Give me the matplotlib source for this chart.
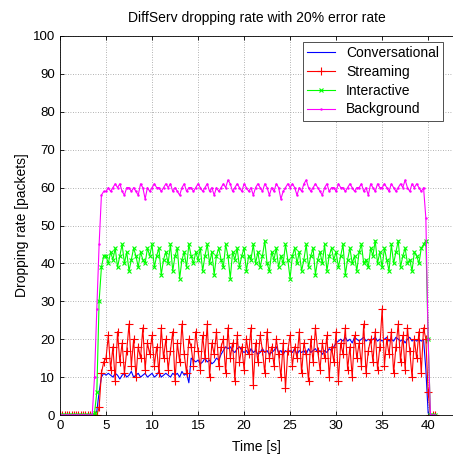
import numpy as np
import matplotlib
matplotlib.use("Agg")
import matplotlib.pyplot as plt

plt.rcParams['font.family'] = ['Liberation Sans', 'DejaVu Sans']

# time axis, one sample every 0.25 s
t = np.arange(0, 41.0, 0.25)

conversational = [
    0, 0, 0, 0, 0, 0, 0, 0, 0, 0, 0, 0, 0, 0, 0, 0, 1, 6, 10, 11,
    10.5, 11, 10.5, 10, 11, 10.5, 9.5, 10.5, 11, 10, 10.5, 11.5, 10, 10.5, 11, 10, 10.5, 11, 10, 10.5,
    11, 10, 10.5, 11.5, 10, 10.5, 11, 10.5, 10, 11, 10.5, 11, 10, 11.5, 10.5, 11, 8.5, 15, 14.5, 14,
    14.5, 13.5, 14, 15, 14, 14.5, 13.5, 14, 15, 14.5, 16, 17, 18, 17.5, 18, 17, 16.5, 17.5, 18, 17,
    16.5, 17, 16, 17.5, 16.5, 17, 16, 16.5, 17.5, 16.5, 17, 16, 16.5, 17, 18, 16.5, 17, 16, 17, 16.5,
    17, 16.5, 17.5, 16, 17, 16.5, 17, 16, 17.5, 16.5, 17, 17.5, 16.5, 17, 16, 17, 16.5, 17.5, 17, 18,
    19, 19.5, 20, 19.5, 20.5, 19.5, 20, 19, 20.5, 20, 19.5, 20, 20.5, 19.5, 20, 19.5, 20, 20.5, 19.5, 20,
    19.5, 20, 20.5, 19.5, 20, 19.5, 20.5, 20, 19.5, 20, 19, 20, 20.5, 19.5, 20, 19.5, 20, 19.5, 20,
    12, 0.5, 0, 0, 0]

streaming = [
    0, 0, 0, 0, 0, 0, 0, 0, 0, 0, 0, 0, 0, 0, 0, 0, 0, 2, 11, 14,
    15, 21, 12, 18, 9, 22, 14, 19, 11, 17, 24, 13, 20, 10, 18, 15, 23, 12, 19, 16,
    21, 13, 18, 11, 23, 15, 20, 12, 17, 22, 9, 19, 14, 24, 16, 11, 20, 18, 13, 22,
    17, 12, 21, 15, 24, 10, 19, 16, 22, 13, 18, 20, 11, 23, 15, 19, 9, 21, 14, 18,
    12, 20, 16, 23, 8, 19, 14, 21, 17, 11, 22, 15, 18, 13, 20, 16, 10, 19, 7, 17,
    21, 13, 18, 15, 22, 11, 19, 16, 9, 20, 14, 23, 17, 12, 19, 15, 21, 10, 18, 14,
    22, 9, 19, 16, 23, 12, 18, 10, 21, 15, 19, 13, 24, 11, 17, 20, 14, 22, 12, 18,
    28, 13, 20, 16, 22, 11, 18, 24, 14, 21, 12, 23, 17, 10, 20, 15, 22, 11, 23,
    20, 6, 0, 0, 0]

interactive = [
    0, 0, 0, 0, 0, 0, 0, 0, 0, 0, 0, 0, 0, 0, 0, 0.5, 6, 30, 39, 42,
    42, 40, 43, 41, 44, 39, 42, 45, 40, 43, 38, 41, 44, 42, 39, 43, 41, 40, 44, 42,
    45, 39, 42, 44, 37, 41, 43, 40, 45, 38, 42, 44, 36, 41, 43, 39, 45, 42, 40, 43,
    41, 44, 38, 42, 45, 40, 43, 37, 42, 44, 41, 39, 45, 42, 36, 43, 41, 44, 39, 42,
    44, 38, 42, 41, 45, 40, 43, 39, 42, 46, 40, 38, 43, 41, 44, 39, 42, 40, 45, 41,
    36, 42, 44, 40, 43, 38, 41, 45, 39, 42, 44, 37, 41, 43, 40, 45, 38, 42, 44, 41,
    43, 39, 42, 45, 37, 41, 44, 40, 42, 38, 43, 45, 40, 41, 39, 44, 42, 46, 40, 43,
    39, 44, 41, 38, 45, 40, 43, 46, 39, 42, 44, 40, 41, 38, 43, 42, 40, 44, 45,
    46, 20, 0, 0, 0]

background = [
    0, 0, 0, 0, 0, 0, 0, 0, 0, 0, 0, 0, 0, 0, 0, 10, 28, 45, 58, 59,
    59, 60, 59, 60, 61, 60, 61, 59, 58, 60, 60, 59, 60, 59, 58, 61, 60, 57, 60, 59,
    60, 61, 60, 60, 59, 60, 61, 60, 61, 59, 60, 59, 58, 60, 61, 59, 60, 60, 59, 60,
    61, 60, 59, 60, 61, 59, 60, 58, 60, 59, 60, 61, 60, 62, 61, 59, 60, 61, 60, 59,
    61, 60, 59, 60, 58, 60, 61, 60, 59, 61, 60, 58, 60, 59, 61, 60, 57, 59, 60, 61,
    60, 61, 60, 58, 60, 59, 61, 62, 60, 59, 60, 61, 60, 59, 58, 60, 61, 59, 60, 60,
    59, 61, 60, 60, 59, 60, 61, 60, 59, 60, 60, 61, 59, 60, 58, 61, 60, 59, 61, 60,
    60, 61, 60, 59, 61, 60, 59, 60, 61, 60, 62, 60, 59, 61, 60, 61, 60, 59, 60,
    52, 20, 0, 0, 0]

labels = ['Conversational', 'Streaming', 'Interactive', 'Background']

fig = plt.figure(figsize=(4.53, 4.58), dpi=100)
ax = fig.add_axes([60/453, 43/458, 393/453, 379/458])

ax.plot(t, conversational, color=(0, 0, 1), lw=0.8, label=labels[0])
ax.plot(t, streaming, color=(1, 0, 0), lw=0.8, marker='+', ms=6, mew=0.8, label=labels[1])
ax.plot(t, interactive, color=(0, 1, 0), lw=0.8, marker='x', ms=3, mew=0.8, label=labels[2])
ax.plot(t, background, color=(1, 0, 1), lw=0.8, marker='.', ms=1.5, label=labels[3])

ax.set_xlim(0, 42.7)
ax.set_ylim(0, 100)
ax.set_xticks(np.arange(0, 41, 5))
ax.set_yticks(np.arange(0, 101, 10))
ax.tick_params(direction='in', top=True, length=3, labelsize=9.5, width=0.6)
ax.spines['right'].set_visible(False)
for s in ['left', 'top', 'bottom']:
    ax.spines[s].set_linewidth(0.6)
ax.grid(True, color='0.6', linestyle=(0, (1, 2)), linewidth=0.6)

ax.set_title('DiffServ dropping rate with 20% error rate', fontsize=10, pad=10)
ax.set_xlabel('Time [s]', fontsize=10, labelpad=6)
ax.set_ylabel('Dropping rate [packets]', fontsize=10, labelpad=3)

leg = ax.legend(loc='upper right', bbox_to_anchor=(0.975, 0.985), borderaxespad=0,
                fontsize=10, fancybox=False, framealpha=1, edgecolor='0.2',
                labelspacing=0.35, handlelength=2.0, borderpad=0.3)
leg.get_frame().set_linewidth(0.6)

fig.savefig('out.png', dpi=100)
